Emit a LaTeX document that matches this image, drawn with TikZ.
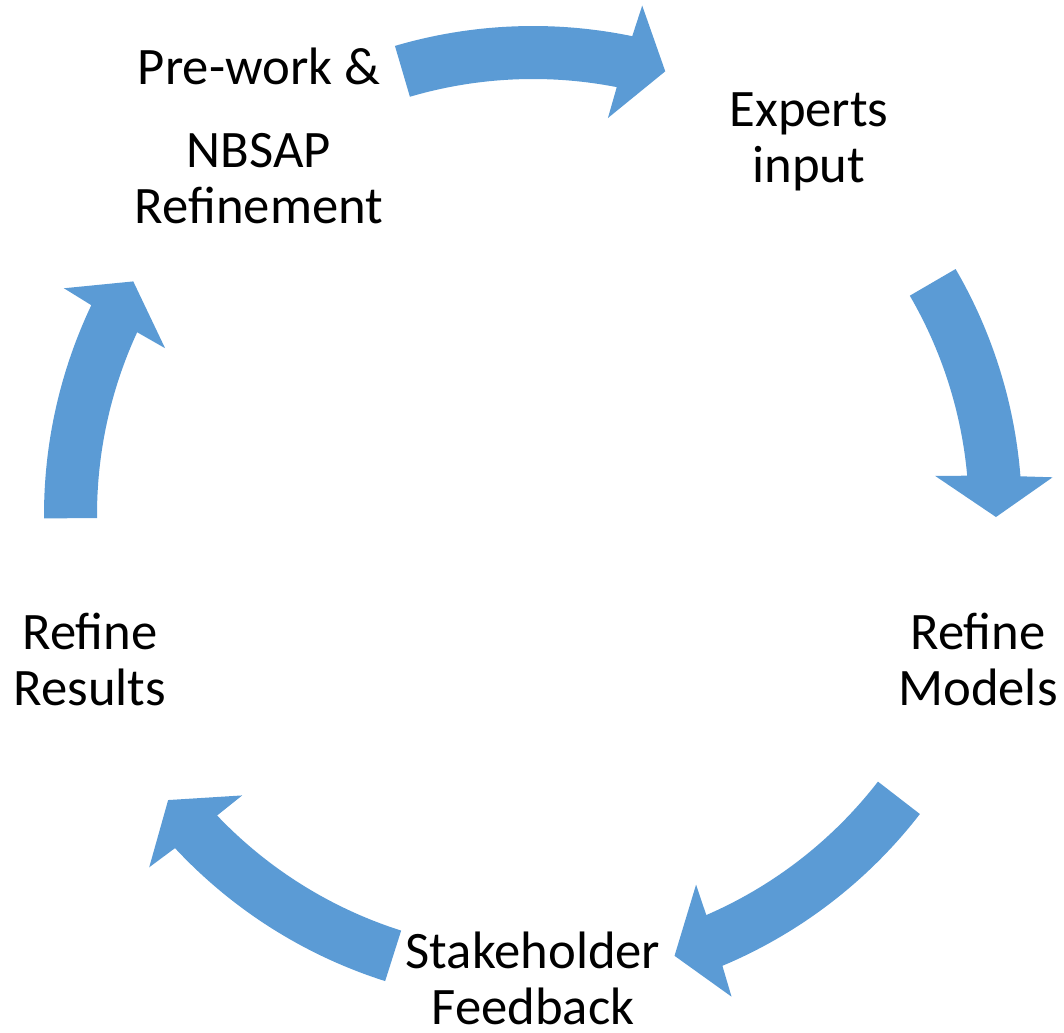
\documentclass[tikz,border=0pt]{standalone}
\usepackage{fontspec}
\setmainfont{Carlito}
\definecolor{cyclefill}{HTML}{5B9BD5}

% One curved block arrow of the cycle, running clockwise round the centre.
% #1 tail angle, #2 angle of the head base, #3 angle of the tip.
% Band: radii 436..489; head: radii 404..521; tip on radius 463.
\newcommand\blockarc[3]{%
  \path[cyclearrow] ({#1}:436)
    arc[start angle={#1}, end angle={#2+0.32}, radius=327pt]
    -- ({#2+0.71}:404) -- ({#3}:463) -- ({#2-0.70}:521) -- ({#2-0.31}:489)
    arc[start angle={#2-0.31}, end angle={#1}, radius=366.75pt]
    -- cycle;}

\begin{document}
\begin{tikzpicture}[x=0.75pt, y=0.75pt,
  cycletext/.style={align=center, inner sep=0pt, text=black,
    font=\fontsize{39.5}{42}\selectfont},
  cyclearrow/.style={fill=cyclefill, draw=none}]
\useasboundingbox (-533,-517) rectangle (531,515);
\coordinate (c) at (0,0);

% arrows between the steps
\blockarc{106.4}{78.6}{73.4}
\blockarc{30.2}{4.85}{-0.25}
\blockarc{-37.7}{-66.9}{-72.2}
\blockarc{-107.6}{-136.75}{-142.0}
\blockarc{180.4}{154.9}{149.7}

% steps
\node[cycletext] (prework)  at (-274,379)  {Pre-work \&\\[20pt]NBSAP\\Refinement};
\node[cycletext] (experts)  at (276,373)   {Experts\\input};
\node[cycletext] (models)   at (445,-144)  {Refine\\Models};
\node[cycletext] (feedback) at (0,-463.5)  {Stakeholder\\Feedback};
\node[cycletext] (results)  at (-443,-144) {Refine\\Results};
\end{tikzpicture}
\end{document}
